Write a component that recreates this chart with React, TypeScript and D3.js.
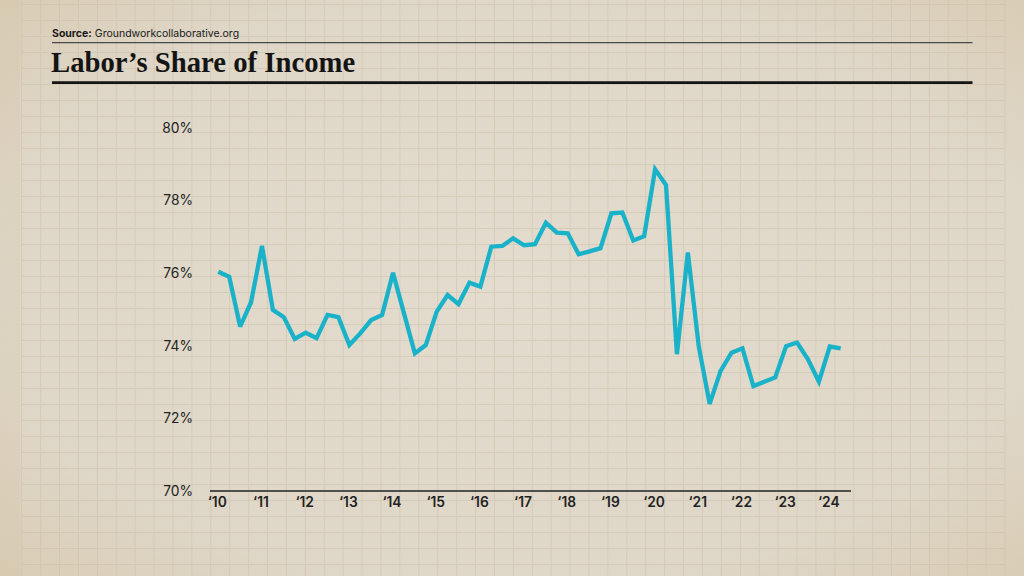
import { useMemo } from "react";
import * as d3 from "d3";

// quarterly labor share (%), 2010 Q1 .. 2024 Q2
const startYear = 2010;
const values = [
  76.04, 75.9, 74.53, 75.2,
  76.75, 74.99, 74.79, 74.19,
  74.36, 74.21, 74.85, 74.79,
  74.02, 74.34, 74.71, 74.85,
  76.01, 74.9, 73.79, 74.02,
  74.94, 75.4, 75.15, 75.74,
  75.63, 76.73, 76.75, 76.96,
  76.77, 76.8, 77.39, 77.12,
  77.1, 76.52, 76.6, 76.69,
  77.65, 77.67, 76.9, 77.02,
  78.86, 78.43, 73.77, 76.57,
  73.98, 72.4, 73.31, 73.81,
  73.93, 72.89, 73.01, 73.13,
  73.99, 74.09, 73.63, 73.01,
  73.98, 73.93,
];
const yearTicks = [2010, 2011, 2012, 2013, 2014, 2015, 2016, 2017, 2018, 2019, 2020, 2021, 2022, 2023, 2024];
const yTicks = [70, 72, 74, 76, 78, 80];

const W = 1024;
const H = 576;

export default function App() {
  const x = d3.scaleLinear().domain([2010, 2024]).range([218.3, 829.8]);
  const y = d3.scaleLinear().domain([70, 80]).range([491, 128]);

  const line = d3
    .line<number>()
    .x((_, i) => x(startYear + i / 4))
    .y((d) => y(d));

  const gridX = useMemo(() => d3.range(21.7, 1006, 18.91), []);
  const gridY = useMemo(() => d3.range(4.5, 576, 16), []);

  const sans = "Inter, 'Noto Sans', sans-serif";

  return (
    <svg
      width={W}
      height={H}
      style={{ position: "absolute", left: 0, top: 0, display: "block" }}
    >
      <defs>
        <radialGradient id="vig" cx="50%" cy="50%" r="75%">
          <stop offset="0%" stopColor="#e5ded1" />
          <stop offset="70%" stopColor="#e0d8c9" />
          <stop offset="100%" stopColor="#d8cbb1" />
        </radialGradient>
        <filter id="grain" x="0" y="0" width="100%" height="100%">
          <feTurbulence type="fractalNoise" baseFrequency="0.9" numOctaves="2" seed="3" />
          <feColorMatrix type="matrix" values="0 0 0 0 0.55  0 0 0 0 0.47  0 0 0 0 0.35  0 0 0 0.1 0" />
        </filter>
      </defs>

      {/* paper */}
      <rect width={W} height={H} fill="url(#vig)" />
      <rect width={W} height={H} filter="url(#grain)" />
      <rect x={0} y={0} width={20} height={H} fill="#cdbd9c" opacity={0.15} />

      {/* graph paper grid */}
      <g stroke="#c9bca3" strokeWidth={1} opacity={0.45}>
        {gridX.map((gx) => (
          <line key={"gx" + gx} x1={gx} x2={gx} y1={0} y2={H} />
        ))}
        {gridY.map((gy) => (
          <line key={"gy" + gy} x1={21.7} x2={1004} y1={gy} y2={gy} />
        ))}
      </g>

      {/* header */}
      <text x={52} y={37} fontFamily={sans} fontSize={10.5} fill="#1a1a1a">
        <tspan fontWeight={700}>Source:</tspan>
        <tspan dx={3}>Groundworkcollaborative.org</tspan>
      </text>
      <line x1={52} x2={972.5} y1={42.7} y2={42.7} stroke="#4a4a4a" strokeWidth={1.3} />
      <text
        x={51}
        y={71.5}
        fontFamily="'Liberation Serif', 'DejaVu Serif', serif"
        fontWeight={700}
        fontSize={28.7}
        fill="#141414"
      >
        Labor’s Share of Income
      </text>
      <line x1={52} x2={972.5} y1={82.7} y2={82.7} stroke="#141414" strokeWidth={2.7} />

      {/* y axis labels */}
      <g fontFamily={sans} fontSize={13.8} fill="#222" textAnchor="end">
        {yTicks.map((t) => (
          <text key={t} x={193} y={y(t)} dy="0.35em">
            {t}%
          </text>
        ))}
      </g>

      {/* x axis */}
      <line x1={210} x2={851} y1={491} y2={491} stroke="#222" strokeWidth={1.6} />
      <g fontFamily={sans} fontSize={13.8} fontWeight={600} fill="#222" textAnchor="middle">
        {yearTicks.map((t) => (
          <text key={t} x={x(t) - 1} y={506.5}>
            ‘{String(t).slice(2)}
          </text>
        ))}
      </g>

      {/* series */}
      <path
        d={line(values) ?? ""}
        fill="none"
        stroke="#1ab2c8"
        strokeWidth={4.3}
        strokeLinejoin="miter"
        strokeMiterlimit={3}
        strokeLinecap="butt"
      />
    </svg>
  );
}
